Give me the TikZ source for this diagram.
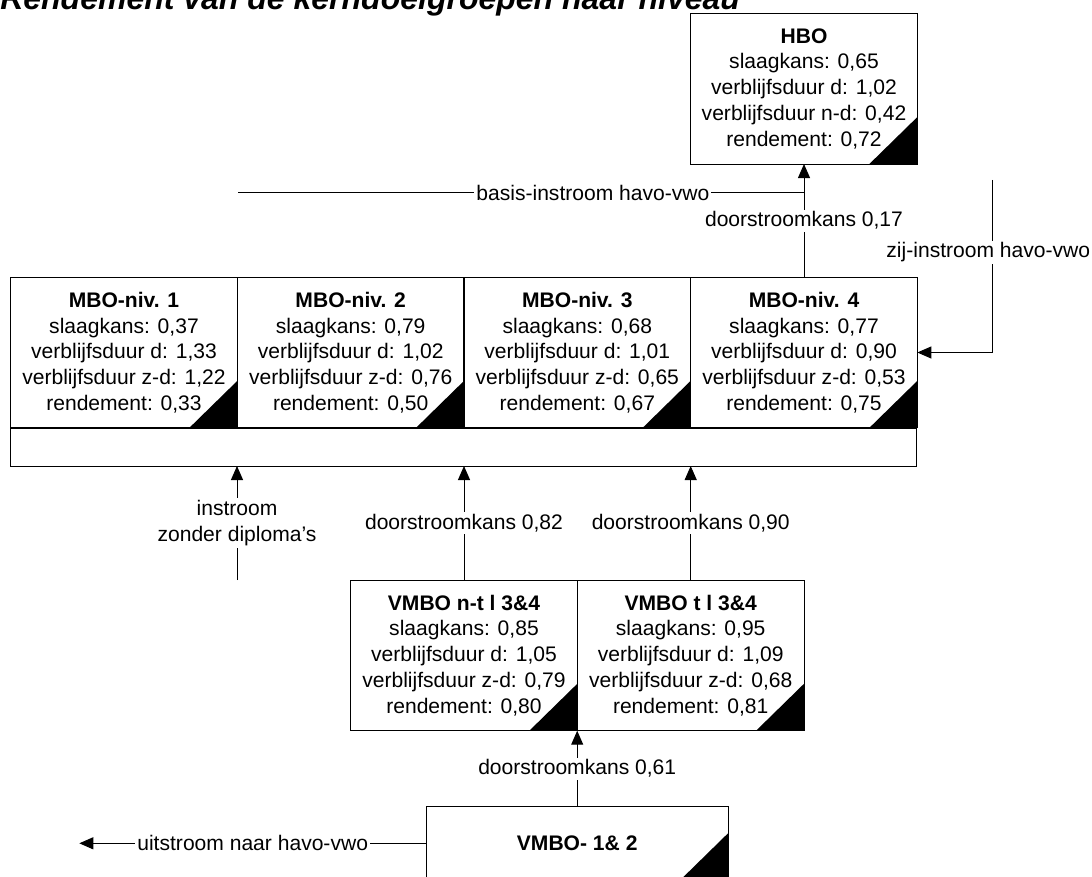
\documentclass[tikz,border=0pt]{standalone}
\usepackage{fontspec}
\setmainfont{Liberation Sans}
\usetikzlibrary{arrows.meta,calc}
\newcommand\cornermark[1]{\fill (#1.south east) -- ++(-48,0) -- ++(48,-47) -- cycle;}
\begin{document}
\begin{tikzpicture}[x=0.75pt,y=-0.75pt,
  every node/.style={font=\fontsize{15.8}{19.3}\selectfont},
  levelbox/.style={draw, line width=0.75pt, minimum width=170pt, minimum height=113pt, align=center, inner sep=0pt, outer sep=0pt},
  flow/.style={line width=0.75pt, -{Triangle[length=10.5pt,width=9pt]}},
  plainflow/.style={line width=0.75pt},
  lbl/.style={fill=white, inner sep=1.5pt, align=center}
]
\clip (0,0) rectangle (1092,877);
\fill[white] (0,0) rectangle (1092,877);

% title
\node[anchor=base west, font=\fontsize{24}{28}\selectfont\bfseries\itshape, inner sep=0pt] (title) at (0,10) {Rendement van de kerndoelgroepen naar niveau};

% HBO
\node[levelbox] (hbo) at (804,88.7) {\textbf{HBO}\\slaagkans: 0,65\\verblijfsduur d: 1,02\\verblijfsduur n-d: 0,42\\rendement: 0,72};
\cornermark{hbo}

% MBO strip and boxes
\node[draw, line width=0.75pt, minimum width=679.7pt, minimum height=28.5pt, inner sep=0pt, outer sep=0pt] (strip) at (463.85,447) {};
\node[levelbox] (mbo1) at (124,352.5) {\textbf{MBO-niv. 1}\\slaagkans: 0,37\\verblijfsduur d: 1,33\\verblijfsduur z-d: 1,22\\rendement: 0,33};
\node[levelbox] (mbo2) at (350.7,352.5) {\textbf{MBO-niv. 2}\\slaagkans: 0,79\\verblijfsduur d: 1,02\\verblijfsduur z-d: 0,76\\rendement: 0,50};
\node[levelbox] (mbo3) at (577.3,352.5) {\textbf{MBO-niv. 3}\\slaagkans: 0,68\\verblijfsduur d: 1,01\\verblijfsduur z-d: 0,65\\rendement: 0,67};
\node[levelbox] (mbo4) at (804,352.5) {\textbf{MBO-niv. 4}\\slaagkans: 0,77\\verblijfsduur d: 0,90\\verblijfsduur z-d: 0,53\\rendement: 0,75};
\cornermark{mbo1}
\cornermark{mbo2}
\cornermark{mbo3}
\cornermark{mbo4}

% VMBO 3&4
\node[levelbox] (vnt) at (464,655.4) {\textbf{VMBO n-t l 3\&4}\\slaagkans: 0,85\\verblijfsduur d: 1,05\\verblijfsduur z-d: 0,79\\rendement: 0,80};
\node[levelbox] (vt) at (690.7,655.4) {\textbf{VMBO t l 3\&4}\\slaagkans: 0,95\\verblijfsduur d: 1,09\\verblijfsduur z-d: 0,68\\rendement: 0,81};
\cornermark{vnt}
\cornermark{vt}

% VMBO 1&2
\node[draw, line width=0.75pt, minimum width=226.7pt, minimum height=55pt, inner sep=0pt, outer sep=0pt] (v12) at (577.2,843.3) {\textbf{VMBO- 1\& 2}};
\cornermark{v12}

% free ends
\coordinate (basisstart) at (238,192.7);
\coordinate (zijstart) at (992.3,180);
\coordinate (instroomstart) at (237,580);
\coordinate (uitend) at (79.3,843.3);

% connectors
\draw[flow] (mbo4.north) -- (hbo.south) node[lbl, midway]{doorstroomkans 0,17};
\draw[plainflow] (basisstart) -- (basisstart -| hbo.south) node[lbl, pos=0.627]{basis-instroom havo-vwo};
\draw[flow] (zijstart) |- (mbo4.east) node[lbl, pos=0.21, xshift=-3pt]{zij-instroom havo-vwo};
\draw[flow] (instroomstart) -- (instroomstart |- strip.south) node[lbl, midway]{instroom\\zonder diploma's};
\draw[flow] (vnt.north) -- (vnt.north |- strip.south) node[lbl, midway]{doorstroomkans 0,82};
\draw[flow] (vt.north) -- (vt.north |- strip.south) node[lbl, midway]{doorstroomkans 0,90};
\draw[flow] (v12.north) -- (v12.north |- vnt.south) node[lbl, midway]{doorstroomkans 0,61};
\draw[flow] (v12.west) -- (uitend) node[lbl, midway]{uitstroom naar havo-vwo};
\end{tikzpicture}
\end{document}
